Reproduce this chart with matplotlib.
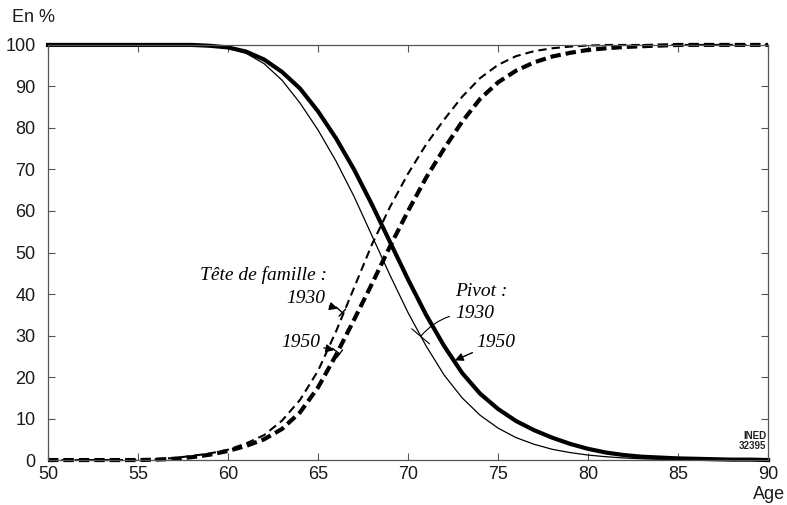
import numpy as np
import matplotlib
matplotlib.use("Agg")
from matplotlib import pyplot as plt

plt.rcParams['font.family'] = ['Liberation Sans', 'DejaVu Sans']
plt.rcParams['lines.scale_dashes'] = False

ages = list(range(50, 91))

# Pivot (solid lines), share in %
pivot_1930 = [100, 100, 100, 100, 100, 100, 100, 100, 99.9, 99.7,
              99.2, 98, 95.5, 91.5, 86, 79.5, 72, 63.5, 54, 44.5,
              35.5, 27.5, 20.5, 15, 10.8, 7.7, 5.4, 3.8, 2.6, 1.8,
              1.2, 0.8, 0.5, 0.3, 0.2, 0.1, 0, 0, 0, 0, 0]
pivot_1950 = [100, 100, 100, 100, 100, 100, 100, 100, 100, 99.8,
              99.4, 98.4, 96.5, 93.5, 89.5, 84, 77.5, 70, 61.5, 52.5,
              43.5, 35, 27.5, 21, 16, 12.3, 9.4, 7.2, 5.4, 3.9,
              2.7, 1.8, 1.2, 0.8, 0.6, 0.4, 0.3, 0.2, 0.1, 0.1, 0]

# Tete de famille (dashed lines)
tete_1930 = [0, 0, 0, 0, 0, 0, 0.2, 0.5, 1, 1.6,
             2.5, 4, 6, 9.5, 14.5, 21.5, 31, 41.5, 52, 61,
             69, 76, 82, 87.5, 92, 95.2, 97.3, 98.5, 99.2, 99.6,
             99.85, 100, 100, 100, 100, 100, 100, 100, 100, 100, 100]
tete_1950 = [0, 0, 0, 0, 0, 0, 0.1, 0.3, 0.7, 1.3,
             2.2, 3.4, 5, 7.5, 11.5, 17.5, 25.3, 33.8, 42.5, 51.5,
             60, 68, 75, 81.5, 87, 91, 93.8, 95.8, 97.2, 98.1,
             98.8, 99.2, 99.5, 99.7, 99.85, 100, 100, 100, 100, 100, 100]

xticks = list(range(50, 91, 5))
yticks = list(range(0, 101, 10))

fig = plt.figure(figsize=(7.87, 5.05), dpi=100)
ax = fig.add_axes([0.061, 0.089, 0.915, 0.822])

ax.plot(ages, pivot_1930, color='black', lw=0.9, clip_on=False)
ax.plot(ages, pivot_1950, color='black', lw=3.0, clip_on=False)
ax.plot(ages, tete_1930, color='black', lw=1.5, ls=(0, (6, 3.6)), clip_on=False)
ax.plot(ages, tete_1950, color='black', lw=3.0, ls=(0, (7.5, 3.6)), clip_on=False)

ax.set_xlim(50, 90)
ax.set_ylim(0, 100)
ax.set_xticks(xticks)
ax.set_yticks(yticks)
ax.tick_params(direction='in', length=5, width=0.8, color='#555555',
               top=True, right=True, labelsize=13, labelcolor='#1a1a1a')
ax.tick_params(axis='y', pad=9)
ax.tick_params(axis='x', pad=4)
for s in ax.spines.values():
    s.set_color('#555555')
    s.set_linewidth(0.9)

fig.text(0.015, 0.965, 'En %', fontsize=13, color='#1a1a1a', va='center')
fig.text(0.997, 0.02, 'Age', fontsize=13, color='#1a1a1a', ha='right', va='center')
ax.text(89.9, 4.5, 'INED\n32395', fontsize=7, fontweight='bold', ha='right',
        va='center', linespacing=1.0, color='#222222')

lab = dict(family=['Liberation Serif', 'DejaVu Serif'], style='italic', fontsize=14)
head = dict(arrowstyle='-|>', color='black', lw=1.0, shrinkA=1, shrinkB=0,
            mutation_scale=12)
bar = dict(arrowstyle='-[, widthB=0.35, lengthB=0', color='black', lw=1.0,
           shrinkA=0, shrinkB=0)

ax.text(65.5, 44.6, 'Tête de famille :', ha='right', va='center', **lab)
ax.annotate('1930', xy=(66.1, 36.5), xytext=(65.4, 38.8),
            ha='right', va='center', arrowprops=head, **lab)
ax.annotate('', xy=(66.35, 35.5), xytext=(66.0, 36.9), arrowprops=bar)
ax.annotate('1950', xy=(65.9, 26.5), xytext=(65.1, 28.2),
            ha='right', va='center', arrowprops=head, **lab)
ax.annotate('', xy=(66.2, 25.6), xytext=(65.8, 26.9), arrowprops=bar)

ax.text(72.6, 40.5, 'Pivot :', ha='left', va='center', **lab)
ax.annotate('1930', xy=(70.7, 29.8), xytext=(72.6, 35.3), ha='left', va='center',
            arrowprops=dict(arrowstyle='-[, widthB=0.6, lengthB=0', color='black',
                            lw=0.8, shrinkA=2, shrinkB=0,
                            connectionstyle='arc3,rad=0.25'), **lab)
ax.annotate('1950', xy=(72.6, 24.0), xytext=(73.8, 28.4), ha='left', va='center',
            arrowprops=head, **lab)

fig.savefig('out.png', dpi=100)
